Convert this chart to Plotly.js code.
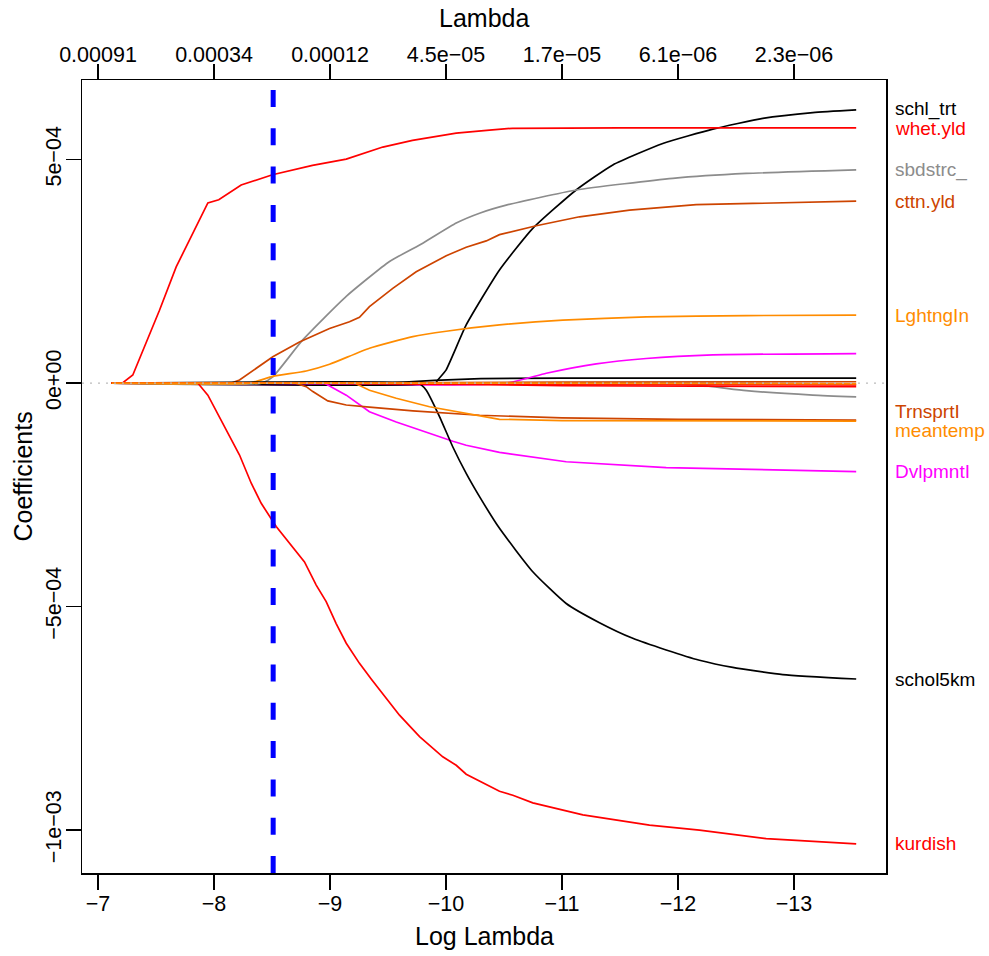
<!DOCTYPE html>
<html>
<head>
<meta charset="utf-8">
<script src="https://cdn.plot.ly/plotly-3.0.1.min.js"></script>
<style>html,body{margin:0;padding:0;background:#fff;}#chart{width:989px;height:956px;}</style>
</head>
<body>
<div id="chart"></div>
<script>
// ---------- DATA (x = log lambda, y = coefficient in units of 1e-4) ----------
const logLambdaTicks = [-7, -8, -9, -10, -11, -12, -13];
const logLambdaTickText = ['\u22127', '\u22128', '\u22129', '\u221210', '\u221211', '\u221212', '\u221213'];
const lambdaTickText = ['0.00091', '0.00034', '0.00012', '4.5e\u221205', '1.7e\u221205', '6.1e\u221206', '2.3e\u221206'];
const coefTicks = [5e-4, 0, -5e-4, -1e-3];
const coefTickText = ['5e\u221204', '0e+00', '\u22125e\u221204', '\u22121e\u221203'];
const cvLogLambda = -8.51;
const unit = 1e-4;

const whet_x = [-7.118, -7.209, -7.30, -7.416, -7.530, -7.674, -7.789, -7.947, -8.041, -8.234, -8.504, -8.849, -9.14, -9.312, -9.455, -9.711, -10.088, -10.375, -10.573, -11.5, -12.5, -13.536];
const whet_y = [0, 0, 0.18, 0.89, 1.63, 2.60, 3.20, 4.03, 4.10, 4.43, 4.66, 4.87, 5.01, 5.15, 5.28, 5.43, 5.59, 5.66, 5.70, 5.71, 5.71, 5.71];

const schltrt_x = [-7.118, -9.91, -9.929, -10.0, -10.174, -10.461, -10.748, -11.122, -11.438, -11.869, -12.3, -12.731, -13.162, -13.536];
const schltrt_y = [0, 0, 0.07, 0.29, 1.30, 2.53, 3.46, 4.32, 4.88, 5.36, 5.68, 5.92, 6.05, 6.11];

const sbd_x = [-7.118, -8.41, -8.507, -8.763, -9.14, -9.513, -9.8, -10.088, -10.289, -10.519, -11.122, -11.955, -12.588, -13.536];
const sbd_y = [0, 0, 0.14, 0.96, 1.94, 2.72, 3.13, 3.58, 3.80, 3.98, 4.32, 4.58, 4.69, 4.77];

const cttn_x = [-7.118, -8.15, -8.22, -8.507, -8.737, -8.996, -9.168, -9.254, -9.34, -9.541, -9.743, -10.002, -10.174, -10.347, -10.461, -10.778, -11.151, -11.582, -12.157, -13.536];
const cttn_y = [0, 0, 0.07, 0.59, 0.92, 1.22, 1.37, 1.47, 1.71, 2.12, 2.49, 2.85, 3.04, 3.18, 3.32, 3.52, 3.72, 3.87, 3.99, 4.07];

const lght_x = [-7.118, -8.306, -8.507, -8.795, -8.996, -9.34, -9.714, -10.002, -10.461, -11.007, -11.726, -12.588, -13.536];
const lght_y = [0, 0, 0.15, 0.27, 0.42, 0.78, 1.04, 1.16, 1.30, 1.41, 1.48, 1.51, 1.52];

const magpos_x = [-7.118, -10.52, -10.864, -11.295, -11.726, -12.3, -13.536];
const magpos_y = [0, 0, 0.22, 0.43, 0.55, 0.63, 0.66];

const blkpos_x = [-7.118, -9.5, -9.9, -10.3, -11.0, -13.536];
const blkpos_y = [0, 0, 0.06, 0.10, 0.11, 0.11];

const grayneg_x = [-7.118, -11.32, -12.157, -12.588, -13.162, -13.536];
const grayneg_y = [0, 0, -0.04, -0.17, -0.27, -0.31];

const band1_x = [-7.118, -8.8, -10.0, -13.536];
const band1_y = [0, 0, -0.03, -0.04];
const band2_x = [-7.118, -9.5, -11.0, -13.536];
const band2_y = [0, 0, -0.06, -0.08];
const band3_x = [-7.118, -9.0, -11.0, -13.536];
const band3_y = [0, 0, 0.02, 0.03];
const band4_x = [-7.118, -10.0, -13.536];
const band4_y = [0, 0, -0.02];

const trns_x = [-7.118, -8.703, -8.795, -8.852, -8.981, -9.14, -9.34, -9.714, -10.289, -11.0, -12.0, -13.536];
const trns_y = [0, 0, -0.08, -0.19, -0.40, -0.49, -0.54, -0.62, -0.72, -0.78, -0.81, -0.83];

const mean_x = [-7.118, -9.211, -9.34, -9.571, -9.858, -10.145, -10.289, -10.461, -11.0, -12.0, -13.536];
const mean_y = [0, 0, -0.16, -0.34, -0.53, -0.66, -0.73, -0.81, -0.84, -0.85, -0.85];

const dvlp_x = [-7.118, -8.95, -9.14, -9.34, -9.571, -9.858, -10.059, -10.174, -10.461, -11.036, -11.898, -13.536];
const dvlp_y = [0, 0, -0.27, -0.64, -0.87, -1.13, -1.30, -1.39, -1.55, -1.76, -1.89, -1.98];

const schol_x = [-7.118, -9.757, -9.786, -9.83, -9.944, -10.059, -10.174, -10.289, -10.461, -10.748, -11.036, -11.323, -11.61, -11.898, -12.185, -12.472, -12.903, -13.536];
const schol_y = [0, 0, -0.04, -0.16, -0.75, -1.43, -2.02, -2.54, -3.25, -4.22, -4.93, -5.36, -5.71, -5.97, -6.20, -6.36, -6.52, -6.62];

const kurd_x = [-7.118, -7.86, -7.947, -8.076, -8.22, -8.321, -8.407, -8.536, -8.651, -8.78, -8.881, -8.967, -9.053, -9.14, -9.254, -9.355, -9.599, -9.772, -9.972, -10.088, -10.174, -10.461, -10.576, -10.748, -11.18, -11.754, -12.185, -12.76, -13.536];
const kurd_y = [0, 0, -0.27, -0.90, -1.61, -2.24, -2.69, -3.21, -3.59, -4.0, -4.52, -4.89, -5.38, -5.82, -6.27, -6.62, -7.43, -7.91, -8.36, -8.55, -8.75, -9.13, -9.22, -9.39, -9.66, -9.89, -10.0, -10.19, -10.31];

// ---------- STYLE / TRACES ----------
const C_BLACK = '#000000', C_RED = '#FF0000', C_GRAY = '#8C8C8C', C_ORED = '#CD4400', C_ORANGE = '#FF8C00', C_MAG = '#FF00FF';

const series = [
  {name: 'blkpos', x: blkpos_x, y: blkpos_y, color: C_BLACK, label: null, smooth: false},
  {name: 'grayneg', x: grayneg_x, y: grayneg_y, color: C_GRAY, label: null, smooth: true},
  {name: 'magpos', x: magpos_x, y: magpos_y, color: C_MAG, label: null, smooth: true},
  {name: 'schl_trt', x: schltrt_x, y: schltrt_y, color: C_BLACK, label: 'schl_trt', smooth: true},
  {name: 'sbdstrc_', x: sbd_x, y: sbd_y, color: C_GRAY, label: 'sbdstrc_', smooth: true},
  {name: 'cttn.yld', x: cttn_x, y: cttn_y, color: C_ORED, label: 'cttn.yld', smooth: false},
  {name: 'LghtngIn', x: lght_x, y: lght_y, color: C_ORANGE, label: 'LghtngIn', smooth: true},
  {name: 'DvlpmntI', x: dvlp_x, y: dvlp_y, color: C_MAG, label: 'DvlpmntI', smooth: false},
  {name: 'schol5km', x: schol_x, y: schol_y, color: C_BLACK, label: 'schol5km', smooth: true},
  {name: 'TrnsprtI', x: trns_x, y: trns_y, color: C_ORED, label: 'TrnsprtI', smooth: false},
  {name: 'meantemp', x: mean_x, y: mean_y, color: C_ORANGE, label: 'meantemp', smooth: false},
  {name: 'kurdish', x: kurd_x, y: kurd_y, color: C_RED, label: 'kurdish', smooth: false},
  {name: 'whet.yld', x: whet_x, y: whet_y, color: C_RED, label: 'whet.yld', smooth: false},
  {name: 'band3', x: band3_x, y: band3_y, color: C_ORED, label: null, smooth: false},
  {name: 'band1', x: band1_x, y: band1_y, color: C_RED, label: null, smooth: false},
  {name: 'band2', x: band2_x, y: band2_y, color: C_RED, label: null, smooth: false},
  {name: 'band4', x: band4_x, y: band4_y, color: C_ORANGE, label: null, smooth: false}
];

const traces = series.map(s => ({
  type: 'scatter', mode: 'lines', name: s.name,
  x: s.x, y: s.y.map(v => v * unit),
  line: s.smooth ? {color: s.color, width: 1.7, shape: 'spline', smoothing: 0.5} : {color: s.color, width: 1.7},
  hoverinfo: 'skip', showlegend: false, xaxis: 'x', yaxis: 'y'
}));
// helper trace so the top (Lambda) axis is drawn
traces.push({type: 'scatter', mode: 'lines', x: [logLambdaTicks[0], logLambdaTicks[logLambdaTicks.length-1]], y: [0, 0],
  xaxis: 'x2', yaxis: 'y', opacity: 0, line: {width: 0}, hoverinfo: 'skip', showlegend: false});

// right-side labels, spread to avoid overlaps
const labeled = series.filter(s => s.label);
const ends = labeled.map(s => s.y[s.y.length - 1]);
const pos = ends.slice();
const order = ends.map((v, i) => i).sort((a, b) => ends[b] - ends[a]);
const minGap = 0.43;
for (let it = 0; it < 300; it++) {
  for (let k = 1; k < order.length; k++) {
    const a = order[k-1], b = order[k];
    const d = pos[a] - pos[b];
    if (d < minGap) { const sh = (minGap - d) / 2; pos[a] += sh; pos[b] -= sh; }
  }
}
const FONT = 'Liberation Sans, Arial, Helvetica, sans-serif';
const annotations = labeled.map((s, i) => ({
  xref: 'paper', yref: 'y', x: 1.0087, y: pos[i] * unit, xanchor: 'left', yanchor: 'middle',
  text: s.label, showarrow: false, font: {family: FONT, size: 19, color: s.color}
}));
annotations.push({xref: 'paper', yref: 'paper', x: 0.5, y: 1.078, text: 'Lambda', showarrow: false,
  xanchor: 'center', yanchor: 'middle', font: {family: FONT, size: 25, color: '#000'}});
annotations.push({xref: 'paper', yref: 'paper', x: 0.5, y: -0.0795, text: 'Log Lambda', showarrow: false,
  xanchor: 'center', yanchor: 'middle', font: {family: FONT, size: 25, color: '#000'}});
annotations.push({xref: 'paper', yref: 'paper', x: -0.0746, y: 0.5, text: 'Coefficients', showarrow: false,
  textangle: -90, xanchor: 'center', yanchor: 'middle', font: {family: FONT, size: 25, color: '#000'}});

const xRange = [-6.862, -13.793];
const axisCommon = {
  showgrid: false, zeroline: false, ticks: 'outside', ticklen: 15, tickwidth: 1.3, tickcolor: '#000',
  showline: true, linecolor: '#000', linewidth: 1.5, tickfont: {family: FONT, size: 21.5, color: '#000'}
};

const layout = {
  width: 989, height: 956,
  margin: {l: 82, r: 103, t: 80, b: 83, pad: 0},
  paper_bgcolor: '#fff', plot_bgcolor: '#fff',
  showlegend: false,
  xaxis: Object.assign({}, axisCommon, {range: xRange, tickmode: 'array', tickvals: logLambdaTicks, ticktext: logLambdaTickText, mirror: true, side: 'bottom', ticklabelstandoff: -4}),
  xaxis2: Object.assign({}, axisCommon, {range: xRange, tickmode: 'array', tickvals: logLambdaTicks, ticktext: lambdaTickText, overlaying: 'x', side: 'top', anchor: 'y', ticklabelstandoff: -7}),
  yaxis: Object.assign({}, axisCommon, {range: [-10.96e-4, 6.78e-4], tickmode: 'array', tickvals: coefTicks, ticktext: coefTickText, tickangle: -90, mirror: true, ticklabelstandoff: -4}),
  shapes: [
    {type: 'line', xref: 'paper', yref: 'y', x0: 0, x1: 1, y0: 0, y1: 0, layer: 'above',
      line: {color: '#BBBBBB', width: 1.3, dash: '2px,6px'}},
    {type: 'line', xref: 'x', yref: 'paper', x0: cvLogLambda, x1: cvLogLambda, y0: 0, y1: 1, layer: 'above',
      line: {color: '#0000FF', width: 5, dash: '17px,21.3px'}}
  ],
  annotations: annotations
};

Plotly.newPlot('chart', traces, layout, {staticPlot: true, displayModeBar: false});
</script>
</body>
</html>
